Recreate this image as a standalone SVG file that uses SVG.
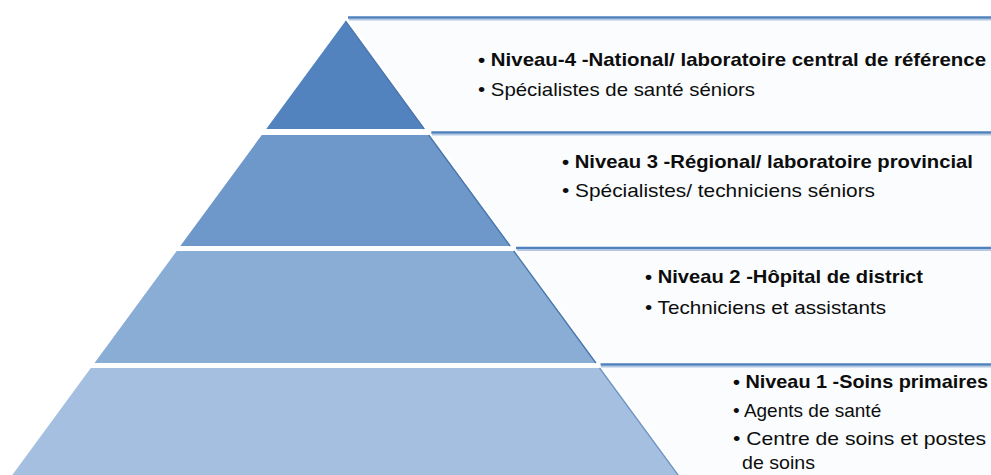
<svg xmlns="http://www.w3.org/2000/svg" width="991" height="475" viewBox="0 0 991 475">
  <style>
    .box { fill: #fafcfe; stroke: none; }
    .topline { fill: none; stroke: #4f81bd; stroke-width: 2.6; }
    .topshadow { fill: none; stroke: #b4c8e2; stroke-width: 1.4; }
    .edge { fill: none; stroke: #4a77ae; stroke-width: 1.3; }
    .t { font-family: "Liberation Sans", Arial, sans-serif; font-size: 19px; fill: #0d0d0d; }
    .b { font-weight: bold; }
  </style>
  <rect width="991" height="475" fill="#ffffff"/>

  <g id="level4">
    <polygon class="box" points="348,17.5 991,17.5 991,131 428,131"/>
    <line class="topshadow" x1="349" y1="19.8" x2="991" y2="19.8"/>
    <line class="topline" x1="348" y1="17.5" x2="991" y2="17.5"/>
    <polygon points="345.5,21 424.8,129 266.2,129" fill="#5283bf"/>
    <line class="edge" x1="345.5" y1="21" x2="424.2" y2="129"/>
    <text class="t b" x="478" y="65.5" textLength="508" lengthAdjust="spacingAndGlyphs">• Niveau-4 -National/ laboratoire central de référence</text>
    <text class="t" x="478" y="96" textLength="277" lengthAdjust="spacingAndGlyphs">• Spécialistes de santé séniors</text>
  </g>

  <g id="level3">
    <polygon class="box" points="431.3,132.5 991,132.5 991,247 513,247"/>
    <line class="topshadow" x1="432" y1="134.8" x2="991" y2="134.8"/>
    <line class="topline" x1="431.3" y1="132.5" x2="991" y2="132.5"/>
    <polygon points="261.8,135 429.2,135 510.7,246 180.3,246" fill="#6f98ca"/>
    <line class="edge" x1="428.6" y1="135" x2="510.1" y2="246"/>
    <text class="t b" x="562" y="167.5" textLength="411" lengthAdjust="spacingAndGlyphs">• Niveau 3 -Régional/ laboratoire provincial</text>
    <text class="t" x="562" y="196.5" textLength="313" lengthAdjust="spacingAndGlyphs">• Spécialistes/ techniciens séniors</text>
  </g>

  <g id="level2">
    <polygon class="box" points="516,248 991,248 991,364 599,364"/>
    <line class="topshadow" x1="517" y1="250.3" x2="991" y2="250.3"/>
    <line class="topline" x1="516" y1="248" x2="991" y2="248"/>
    <polygon points="176.7,251 514.3,251 596.5,363 94.5,363" fill="#8aadd5"/>
    <line class="edge" x1="513.7" y1="251" x2="595.9" y2="363"/>
    <text class="t b" x="645" y="283.3" textLength="278" lengthAdjust="spacingAndGlyphs">• Niveau 2 -Hôpital de district</text>
    <text class="t" x="645" y="314" textLength="241" lengthAdjust="spacingAndGlyphs">• Techniciens et assistants</text>
  </g>

  <g id="level1">
    <polygon class="box" points="600.6,364.5 991,364.5 991,475 681,475"/>
    <line class="topshadow" x1="601" y1="366.8" x2="991" y2="366.8"/>
    <line class="topline" x1="600.6" y1="364.5" x2="991" y2="364.5"/>
    <polygon points="90.8,368 600.2,368 678.7,475 12.3,475" fill="#a4bfe0"/>
    <line class="edge" x1="599.6" y1="368" x2="678.1" y2="475" stroke-opacity="0.6"/>
    <text class="t b" x="733" y="387.5" textLength="255" lengthAdjust="spacingAndGlyphs">• Niveau 1 -Soins primaires</text>
    <text class="t" x="733" y="416.5">• Agents de santé</text>
    <text class="t" x="733" y="444.5" textLength="253" lengthAdjust="spacingAndGlyphs">• Centre de soins et postes</text>
    <text class="t" x="742" y="468.5" textLength="73" lengthAdjust="spacingAndGlyphs">de soins</text>
  </g>

  <g id="connectors"/>
</svg>
